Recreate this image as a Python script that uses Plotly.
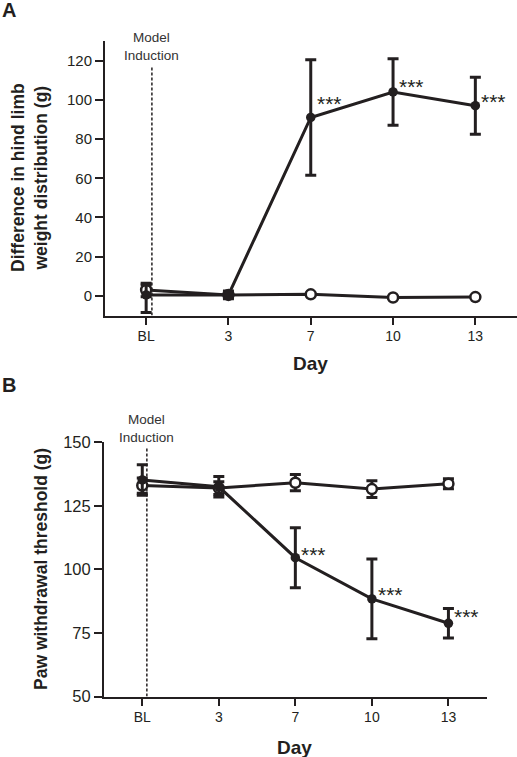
import plotly.graph_objects as go

W, H = 517, 757

# ---------------- data ----------------
days = ["BL", "3", "7", "10", "13"]
xi = [0, 1, 2, 3, 4]

# Panel A: difference in hind limb weight distribution (g)
a_model = [0.5, 0.5, 91, 104, 97]
a_model_err_plus = [5, 2, 29.5, 17, 14.5]
a_model_err_minus = [9, 2, 29.5, 17, 14.5]
a_ctrl = [3, 0.5, 0.8, -0.8, -0.6]
a_ctrl_err = [3.5, 1.5, 0.5, 0.5, 0.5]

# Panel B: paw withdrawal threshold (g)
b_model = [135.2, 132.5, 104.6, 88.4, 78.8]
b_model_err = [6, 4, 11.8, 15.7, 5.8]
b_ctrl = [133, 132, 134.1, 131.6, 133.7]
b_ctrl_err = [3, 2.5, 3.2, 3.3, 2]

a_yticks = [0, 20, 40, 60, 80, 100, 120]
b_yticks = [50, 75, 100, 125, 150]
sig_idx = [2, 3, 4]
sig_text = "***"

INK = "#231f20"
FONT = "Arial, Liberation Sans, Helvetica, sans-serif"

def px(x):
    return x / W

def py(y):
    return 1 - y / H

fig = go.Figure()

def add_series(xa, ya, y, ep, em, filled):
    fig.add_trace(go.Scatter(
        x=xi, y=y, xaxis=xa, yaxis=ya, mode="lines+markers",
        line=dict(color=INK, width=3),
        marker=dict(size=9.5 if filled else 10,
                    color=INK if filled else "white",
                    symbol="circle",
                    line=dict(color=INK, width=0 if filled else 2.5)),
        error_y=dict(type="data", array=ep, arrayminus=em, symmetric=False,
                     color=INK, thickness=3, width=5.5),
        showlegend=False, hoverinfo="skip", cliponaxis=False))

# Panel A
add_series("x", "y", a_ctrl, a_ctrl_err, a_ctrl_err, False)
add_series("x", "y", a_model, a_model_err_plus, a_model_err_minus, True)
# Panel B
add_series("x2", "y2", b_ctrl, b_ctrl_err, b_ctrl_err, False)
add_series("x2", "y2", b_model, b_model_err, b_model_err, True)

axis_common = dict(showline=True, linecolor=INK, linewidth=2, showgrid=False,
                   zeroline=False, ticks="outside", tickcolor=INK, tickwidth=2,
                   mirror=False, automargin=False)

fig.update_layout(
    template="none",
    width=W, height=H, margin=dict(l=0, r=0, t=0, b=0, pad=0, autoexpand=False),
    plot_bgcolor="white", paper_bgcolor="white",
    font=dict(family=FONT, color=INK),
    xaxis=dict(domain=[px(105), px(516.5)], range=[-0.5, 4.5],
               tickvals=xi, ticktext=days, ticklen=7,
               tickfont=dict(size=14, color=INK), anchor="y", **axis_common),
    yaxis=dict(domain=[py(315.5), py(41)], range=[-10, 130],
               tickvals=a_yticks, ticklen=8,
               tickfont=dict(size=15, color=INK), anchor="x", **axis_common),
    xaxis2=dict(domain=[px(104), px(486.7)], range=[-0.5, 4.5],
                tickvals=xi, ticktext=days, ticklen=7,
                tickfont=dict(size=14, color=INK), anchor="y2", **axis_common),
    yaxis2=dict(domain=[py(696.5), py(442.3)], range=[50, 150],
                tickvals=b_yticks, ticklen=8,
                tickfont=dict(size=16.5, color=INK), anchor="x2", **axis_common),
)

# dashed model induction lines
fig.add_shape(type="line", xref="x", yref="y", x0=0.07, x1=0.07, y0=-10, y1=117,
              line=dict(color=INK, width=1.5, dash="3px,2px"))
fig.add_shape(type="line", xref="x2", yref="y2", x0=0.06, x1=0.06, y0=50, y1=147.7,
              line=dict(color=INK, width=1.5, dash="3px,2px"))

ann = []
# panel letters
ann.append(dict(x=px(0), y=py(10), xref="paper", yref="paper", text="<b>A</b>",
                showarrow=False, xanchor="left", yanchor="middle",
                font=dict(size=20, color=INK)))
ann.append(dict(x=px(0), y=py(385), xref="paper", yref="paper", text="<b>B</b>",
                showarrow=False, xanchor="left", yanchor="middle",
                font=dict(size=20, color=INK)))
# model induction labels
ann.append(dict(x=px(151), y=py(46), xref="paper", yref="paper",
                text="Model<br>Induction", showarrow=False,
                xanchor="center", yanchor="middle",
                font=dict(size=13.5, color="#333333")))
ann.append(dict(x=px(146), y=py(429), xref="paper", yref="paper",
                text="Model<br>Induction", showarrow=False,
                xanchor="center", yanchor="middle",
                font=dict(size=13.5, color="#333333")))
# axis titles
ann.append(dict(x=px(29), y=py(178), xref="paper", yref="paper",
                text="<b>Difference in hind limb<br>weight distribution (g)</b>",
                textangle=-90, showarrow=False, xanchor="center", yanchor="middle",
                font=dict(size=17.5, color=INK)))
ann.append(dict(x=px(41), y=py(569), xref="paper", yref="paper",
                text="<b>Paw withdrawal threshold (g)</b>",
                textangle=-90, showarrow=False, xanchor="center", yanchor="middle",
                font=dict(size=17.5, color=INK)))
ann.append(dict(x=px(310), y=py(363), xref="paper", yref="paper", text="<b>Day</b>",
                showarrow=False, xanchor="center", yanchor="middle",
                font=dict(size=19, color=INK)))
ann.append(dict(x=px(294), y=py(747), xref="paper", yref="paper", text="<b>Day</b>",
                showarrow=False, xanchor="center", yanchor="middle",
                font=dict(size=19, color=INK)))

# significance stars
a_star_shift = [19, 10, 9]
b_star_shift = [8, 9, 12]
for k, i in enumerate(sig_idx):
    ann.append(dict(x=xi[i], y=a_model[i], xref="x", yref="y", text=sig_text,
                    showarrow=False, xanchor="left", yanchor="middle",
                    xshift=4, yshift=a_star_shift[k] - 5,
                    font=dict(size=21, color=INK)))
    ann.append(dict(x=xi[i], y=b_model[i], xref="x2", yref="y2", text=sig_text,
                    showarrow=False, xanchor="left", yanchor="middle",
                    xshift=4, yshift=b_star_shift[k] - 5,
                    font=dict(size=21, color=INK)))

fig.update_layout(annotations=ann)
fig.write_html("out.html", config={"displayModeBar": False},
               post_script="document.body.style.margin='0';document.body.style.overflow='hidden';")
